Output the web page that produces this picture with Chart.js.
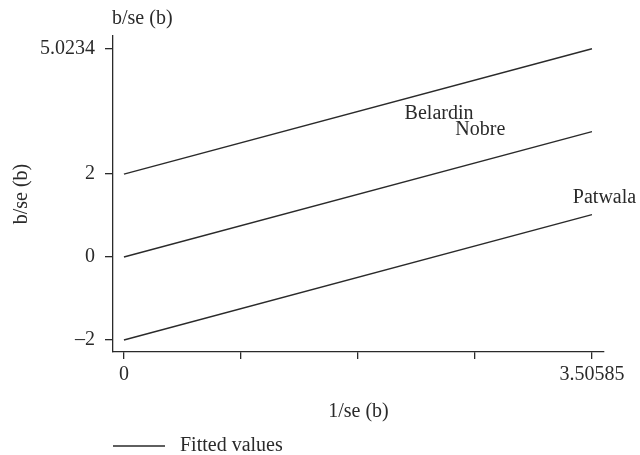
<!DOCTYPE html>
<html>
<head>
<meta charset="utf-8">
<script src="https://cdn.jsdelivr.net/npm/chart.js@4.4.0/dist/chart.umd.min.js"></script>
<style>
  html, body { margin: 0; padding: 0; background: #fff; }
  #wrap { width: 640px; height: 455px; }
</style>
</head>
<body>
<div id="wrap"><canvas id="chart"></canvas></div>
<script>
// Galbraith plot data
const xEnds = [0, 3.50585];
const upperBand = [2, 5.0234];
const fittedLine = [0, 3.0234];
const lowerBand = [-2, 1.0234];

const studyNames = ['Belardin', 'Nobre', 'Patwala'];
const studyX = [2.08, 2.46, 3.34];
const studyY = [3.45, 3.06, 1.42];

const xTicks = [0, 0.8765, 1.7529, 2.6294, 3.50585];
const xTickLabels = ['0', '', '', '', '3.50585'];
const yTicks = [-2, 0, 2, 5.0234];
const yTickLabels = ['\u20132', '0', '2', '5.0234'];

const FONT = 'Liberation Serif';
const INK = '#2a2a2a';

function toPoints(xs, ys) {
    return xs.map((x, i) => ({ x: x, y: ys[i] }));
}

const lineStyle = {
    borderColor: INK,
    borderWidth: 1.4,
    pointRadius: 0,
    showLine: true,
    fill: false
};

// draws study labels, top title and the legend
const extrasPlugin = {
    id: 'extras',
    afterDatasetsDraw(chart) {
        const ctx = chart.ctx;
        ctx.save();
        ctx.fillStyle = INK;
        ctx.font = '20px "' + FONT + '"';
        ctx.textAlign = 'left';
        ctx.textBaseline = 'middle';

        const meta = chart.getDatasetMeta(3);
        meta.data.forEach((pt, i) => {
            ctx.fillText(studyNames[i], pt.x + 3, pt.y);
        });

        // variable label above the y axis
        ctx.textBaseline = 'alphabetic';
        ctx.fillText('b/se (b)', 112, 24);

        // legend
        ctx.strokeStyle = INK;
        ctx.lineWidth = 1.4;
        ctx.beginPath();
        ctx.moveTo(113, 446);
        ctx.lineTo(165, 446);
        ctx.stroke();
        ctx.textBaseline = 'middle';
        ctx.fillText('Fitted values', 180, 446);
        ctx.restore();
    }
};

new Chart(document.getElementById('chart').getContext('2d'), {
    type: 'scatter',
    data: {
        datasets: [
            Object.assign({ label: 'Fitted values', data: toPoints(xEnds, upperBand) }, lineStyle),
            Object.assign({ label: 'Fitted values', data: toPoints(xEnds, fittedLine) }, lineStyle),
            Object.assign({ label: 'Fitted values', data: toPoints(xEnds, lowerBand) }, lineStyle),
            {
                label: 'Studies',
                data: toPoints(studyX, studyY),
                pointRadius: 0,
                showLine: false
            }
        ]
    },
    options: {
        responsive: true,
        maintainAspectRatio: false,
        animation: false,
        layout: { padding: { left: 4, top: 36, right: 36, bottom: 31 } },
        plugins: {
            legend: { display: false },
            tooltip: { enabled: false }
        },
        scales: {
            x: {
                type: 'linear',
                min: -0.082,
                max: 3.596,
                afterBuildTicks: (s) => { s.ticks = xTicks.map(v => ({ value: v })); },
                afterFit: (s) => { s.height = 72; },
                ticks: {
                    autoSkip: false,
                    maxRotation: 0,
                    padding: 4,
                    color: INK,
                    font: { family: FONT, size: 20 },
                    callback: (v, i) => xTickLabels[i]
                },
                grid: { display: true, drawOnChartArea: false, tickLength: 7, color: INK, lineWidth: 1.3 },
                border: { display: true, color: INK, width: 1.3 },
                title: {
                    display: true,
                    text: '1/se (b)',
                    color: INK,
                    padding: { top: 4, bottom: 0 },
                    font: { family: FONT, size: 20 }
                }
            },
            y: {
                type: 'linear',
                min: -2.29,
                max: 5.33,
                afterBuildTicks: (s) => { s.ticks = yTicks.map(v => ({ value: v })); },
                afterFit: (s) => { s.width = 109; },
                ticks: {
                    autoSkip: false,
                    padding: 10,
                    color: INK,
                    font: { family: FONT, size: 20 },
                    callback: (v, i) => yTickLabels[i]
                },
                grid: { display: true, drawOnChartArea: false, tickLength: 8, color: INK, lineWidth: 1.3 },
                border: { display: true, color: INK, width: 1.3 },
                title: {
                    display: true,
                    text: 'b/se (b)',
                    color: INK,
                    padding: { top: 6, bottom: 0 },
                    font: { family: FONT, size: 20 }
                }
            }
        }
    },
    plugins: [extrasPlugin]
});
</script>
</body>
</html>
